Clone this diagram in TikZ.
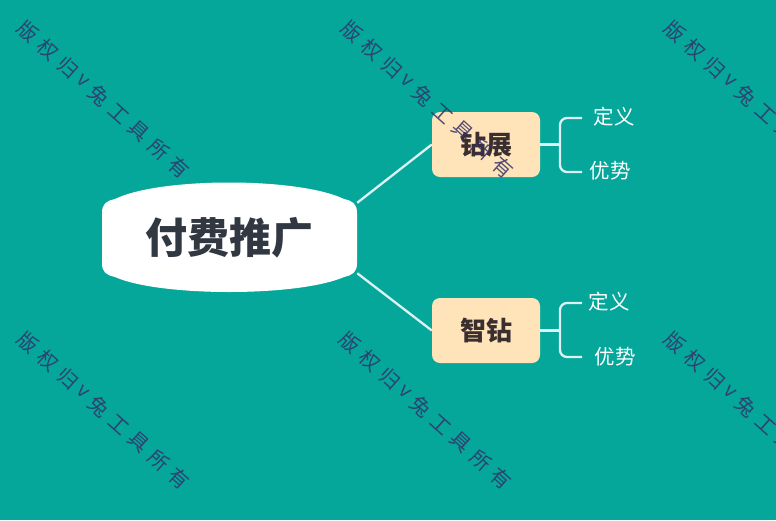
\documentclass[tikz,border=0pt]{standalone}
\usepackage{fontspec}
\setmainfont{Noto Sans CJK SC}
\usetikzlibrary{calc}
\definecolor{bgteal}{RGB}{4, 167, 154}
\definecolor{topicdark}{RGB}{50, 56, 66}
\definecolor{subfill}{RGB}{255, 228, 186}
\definecolor{subtext}{RGB}{58, 46, 46}
\definecolor{branchline}{RGB}{222, 242, 246}
\definecolor{markblue}{RGB}{52, 50, 104}

\begin{document}
\begin{tikzpicture}[x=1pt, y=-1pt,
  sub/.style={fill=subfill, rounded corners=8pt, minimum width=108pt, minimum height=65pt,
    font=\fontsize{26}{26}\selectfont\bfseries, text=subtext},
  leaf/.style={font=\fontsize{20.5}{20.5}\selectfont, text=white},
  branch/.style={draw=branchline, line width=2.3pt},
  wmark/.style={font=\fontsize{20}{20}\selectfont, text=markblue, text opacity=0.85, rotate=-41.8}]

  % Background
  \useasboundingbox (0,0) rectangle (776,520);
  \fill[bgteal] (0,0) rectangle (776,520);

  % Central topic (bulged box)
  \fill[white] (102,213) -- (102,263)
    .. controls (102,272) and (106,275) .. (115,277)
    .. controls (160,297) and (298,297) .. (344,277)
    .. controls (353,275) and (357,272) .. (357,263) -- (357,213)
    .. controls (357,204) and (353,201) .. (344,199)
    .. controls (298,177) and (160,177) .. (115,199)
    .. controls (106,201) and (102,204) .. (102,213) -- cycle;
  \node[font=\fontsize{42}{42}\selectfont\bfseries, text=topicdark,
    minimum width=255pt, minimum height=70pt] (topic) at (229.5,238) {付费推广};

  % Subtopics
  \node[sub] (zuanzhan) at (486,144.5) {钻展};
  \node[sub] (zhizuan) at (486,330.5) {智钻};

  \draw[branch] (topic.north east) -- (zuanzhan.west);
  \draw[branch] (topic.south east) -- (zhizuan.west);

  % Brackets to leaves
  \coordinate (zzfork) at (560,144.5);
  \coordinate (zzup) at (582,118);
  \coordinate (zzdown) at (582,172);
  \draw[branch] (zuanzhan.east) -- (zzfork);
  \draw[branch, rounded corners=7pt] (zzup) -| (zzfork) |- (zzdown);
  \node[leaf] (zzdy) at (614,117) {定义};
  \node[leaf] (zzys) at (610,171) {优势};

  \coordinate (zhfork) at (560,330.5);
  \coordinate (zhup) at (582,303);
  \coordinate (zhdown) at (582,357);
  \draw[branch] (zhizuan.east) -- (zhfork);
  \draw[branch, rounded corners=7pt] (zhup) -| (zhfork) |- (zhdown);
  \node[leaf] (zhdy) at (609,302) {定义};
  \node[leaf] (zhys) at (615,357) {优势};

  % Watermarks
  \foreach \wx/\wy in {28/32, 352/32, 675/32, 28/343, 350/343, 675/343} {
    \foreach \d/\c in {0/版, 27/权, 54/归, 74/v, 95/兔, 122/工, 149/具, 176/所, 203/有} {
      \node[wmark] at (\wx+0.7456*\d, \wy+0.6665*\d) {\c};
    }
  }
\end{tikzpicture}
\end{document}
